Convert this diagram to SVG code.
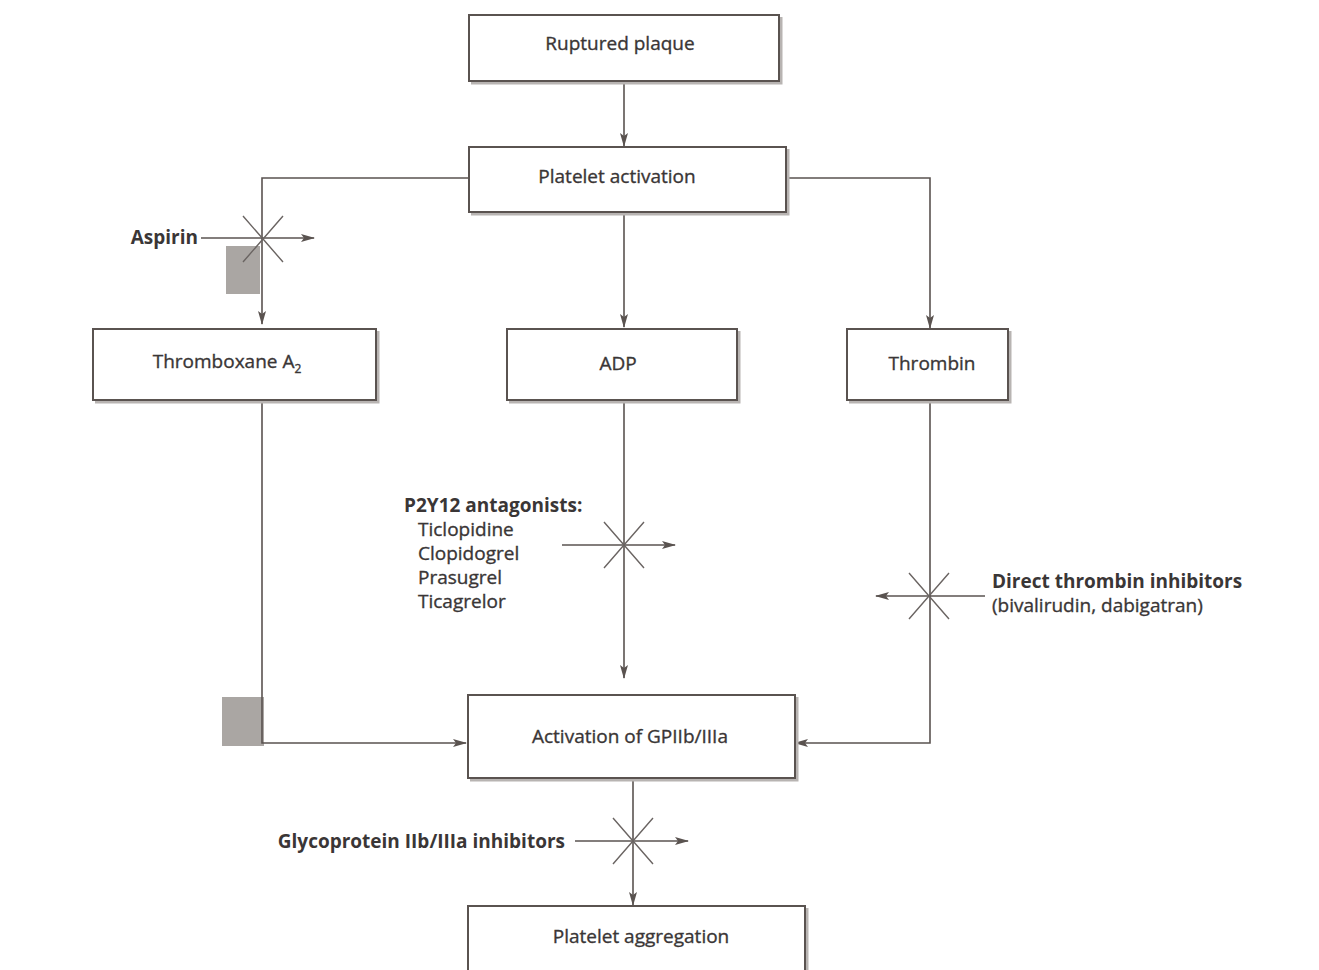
<svg xmlns="http://www.w3.org/2000/svg" width="1319" height="970" viewBox="0 0 1319 970">
<defs>
<style>
.box{fill:#fff;stroke:#5a5350;stroke-width:2}
.sh{fill:none;stroke:#b8b4b2;stroke-width:3}
.t{font-family:"Open Sans","Noto Sans",sans-serif;font-size:19px;fill:#3a3636;stroke:#3a3636;stroke-width:0.35;text-anchor:middle}
.b{font-family:"Open Sans","Noto Sans",sans-serif;font-size:19px;font-weight:bold;fill:#3a3636}
.r{font-family:"Open Sans","Noto Sans",sans-serif;font-size:19px;fill:#3a3636;stroke:#3a3636;stroke-width:0.35}
.ln{fill:none;stroke:#5a5350;stroke-width:1.6}
.x{stroke:#6a6462;stroke-width:1.4}
.sq{fill:#aaa6a3}
</style>
<marker id="ah" markerWidth="14" markerHeight="10" refX="13" refY="5" orient="auto" markerUnits="userSpaceOnUse">
<path d="M0,1 L14,5 L0,9 L3,5 Z" fill="#5a5350"/>
</marker>
</defs>
<rect width="1319" height="970" fill="#fff"/>

<g id="squares">
<rect class="sq" x="226" y="246" width="34" height="48"/>
<rect class="sq" x="222" y="697" width="42" height="49"/>
</g>

<g id="connectors">
<line class="ln" x1="624" y1="81" x2="624" y2="146" marker-end="url(#ah)"/>
<polyline class="ln" points="469,178 262,178 262,324" marker-end="url(#ah)"/>
<line class="ln" x1="624" y1="212" x2="624" y2="327" marker-end="url(#ah)"/>
<polyline class="ln" points="786,178 930,178 930,328" marker-end="url(#ah)"/>
<polyline class="ln" points="262,400 262,743 466,743" marker-end="url(#ah)"/>
<line class="ln" x1="624" y1="400" x2="624" y2="678" marker-end="url(#ah)"/>
<polyline class="ln" points="930,400 930,743 795,743" marker-end="url(#ah)"/>
<line class="ln" x1="633" y1="778" x2="633" y2="905" marker-end="url(#ah)"/>
<line class="ln" x1="201" y1="238" x2="314" y2="238" marker-end="url(#ah)"/>
<line class="ln" x1="562" y1="545" x2="675" y2="545" marker-end="url(#ah)"/>
<line class="ln" x1="985" y1="596" x2="876" y2="596" marker-end="url(#ah)"/>
<line class="ln" x1="575" y1="841" x2="688" y2="841" marker-end="url(#ah)"/>
</g>

<g id="blocks">
<path class="x" d="M243,216 L283,262 M243,262 L283,216"/>
<path class="x" d="M604,522 L644,568 M604,568 L644,522"/>
<path class="x" d="M909,573 L949,619 M909,619 L949,573"/>
<path class="x" d="M613,818 L653,864 M613,864 L653,818"/>
</g>

<g id="ruptured-plaque">
<polyline class="sh" points="781,17 781,83 471,83"/>
<rect class="box" x="469" y="15" width="310" height="66"/>
<text class="t" x="620" y="50">Ruptured plaque</text>
</g>

<g id="platelet-activation">
<polyline class="sh" points="788,149 788,214 471,214"/>
<rect class="box" x="469" y="147" width="317" height="65"/>
<text class="t" x="617" y="183">Platelet activation</text>
</g>

<g id="thromboxane">
<polyline class="sh" points="378,331 378,402 95,402"/>
<rect class="box" x="93" y="329" width="283" height="71"/>
<text class="t" x="227" y="368">Thromboxane A<tspan font-size="12" dy="5">2</tspan></text>
</g>

<g id="adp">
<polyline class="sh" points="739,331 739,402 509,402"/>
<rect class="box" x="507" y="329" width="230" height="71"/>
<text class="t" x="618" y="370">ADP</text>
</g>

<g id="thrombin">
<polyline class="sh" points="1010,331 1010,402 849,402"/>
<rect class="box" x="847" y="329" width="161" height="71"/>
<text class="t" x="932" y="370">Thrombin</text>
</g>

<g id="gp-activation">
<polyline class="sh" points="797,697 797,780 470,780"/>
<rect class="box" x="468" y="695" width="327" height="83"/>
<text class="t" x="630" y="743">Activation of GPIIb/IIIa</text>
</g>

<g id="platelet-aggregation">
<polyline class="sh" points="807,908 807,972"/>
<rect class="box" x="468" y="906" width="337" height="70"/>
<text class="t" x="641" y="943">Platelet aggregation</text>
</g>

<g id="aspirin">
<text class="b" x="198" y="244" text-anchor="end">Aspirin</text>
</g>

<g id="p2y12">
<text class="b" x="404" y="512">P2Y12 antagonists:</text>
<text class="r" x="418" y="536">Ticlopidine</text>
<text class="r" x="418" y="560">Clopidogrel</text>
<text class="r" x="418" y="584">Prasugrel</text>
<text class="r" x="418" y="608">Ticagrelor</text>
</g>

<g id="dti">
<text class="b" x="992" y="588">Direct thrombin inhibitors</text>
<text class="r" x="992" y="612">(bivalirudin, dabigatran)</text>
</g>

<g id="gp-inhibitors">
<text class="b" x="565" y="848" text-anchor="end">Glycoprotein IIb/IIIa inhibitors</text>
</g>
</svg>
